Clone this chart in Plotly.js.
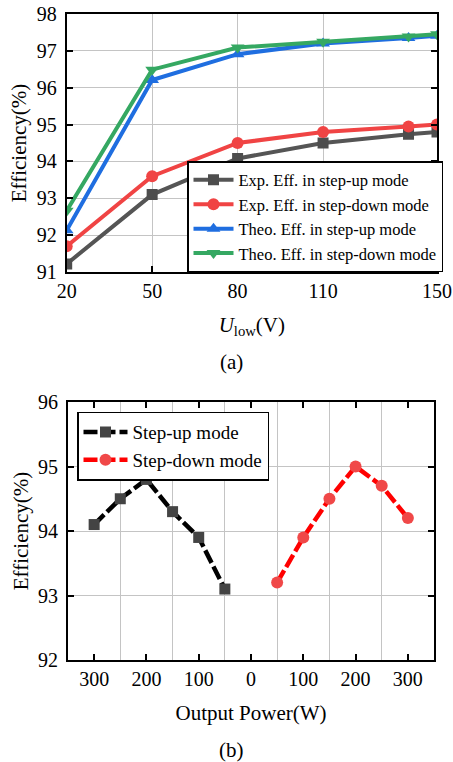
<!DOCTYPE html>
<html>
<head>
<meta charset="utf-8">
<script src="https://cdn.plot.ly/plotly-3.0.1.min.js"></script>
<style>html,body{margin:0;padding:0;background:#fff;}#chart{width:453px;height:762px;}</style>
</head>
<body>
<div id="chart"></div>
<script>
// ---- Data: chart (a) ----
const uLow = [20, 50, 80, 110, 140, 150];
const expStepUp = [91.22, 93.1, 94.08, 94.5, 94.74, 94.8];
const expStepDown = [91.7, 93.6, 94.5, 94.8, 94.95, 95.0];
const theoStepUp = [92.13, 96.21, 96.91, 97.2, 97.35, 97.41];
const theoStepDown = [92.66, 96.49, 97.09, 97.25, 97.39, 97.45];
const namesA = ["Exp. Eff. in step-up mode", "Exp. Eff. in step-down mode",
                "Theo. Eff. in step-up mode", "Theo. Eff. in step-down mode"];
const uLowTicks = [20, 50, 80, 110, 150];

// ---- Data: chart (b) ----
const powerUp = [300, 250, 200, 150, 100, 50];
const effUp = [94.1, 94.5, 94.8, 94.3, 93.9, 93.1];
const powerDown = [50, 100, 150, 200, 250, 300];
const effDown = [93.2, 93.9, 94.5, 95.0, 94.7, 94.2];
const namesB = ["Step-up mode", "Step-down mode"];
const powerTickVals = [-300, -200, -100, 0, 100, 200, 300];
const powerTickText = ["300", "200", "100", "0", "100", "200", "300"];
const powerGridVals = [-250, -150, -50, 50, 150, 250];

const FONT = "Liberation Serif, 'Times New Roman', serif";
const W = 453, H = 762;
const px = v => v / W;
const py = v => (H - v) / H;

const traces = [
  {x: uLow, y: expStepUp, name: namesA[0], mode: "lines+markers", xaxis: "x", yaxis: "y", legend: "legend",
   line: {color: "#555555", width: 4}, marker: {symbol: "square", size: 11, color: "#4d4d4d"}},
  {x: uLow, y: expStepDown, name: namesA[1], mode: "lines+markers", xaxis: "x", yaxis: "y", legend: "legend",
   line: {color: "#f04444", width: 4}, marker: {symbol: "circle", size: 12, color: "#f04444"}},
  {x: uLow, y: theoStepUp, name: namesA[2], mode: "lines+markers", xaxis: "x", yaxis: "y", legend: "legend",
   line: {color: "#1f6ee0", width: 4}, marker: {symbol: "triangle-up", size: 12, color: "#1f6ee0"}},
  {x: uLow, y: theoStepDown, name: namesA[3], mode: "lines+markers", xaxis: "x", yaxis: "y", legend: "legend",
   line: {color: "#35a862", width: 4}, marker: {symbol: "triangle-down", size: 12, color: "#35a862"}},
  {x: powerUp.map(p => -p), y: effUp, name: namesB[0], mode: "lines+markers", xaxis: "x2", yaxis: "y2", legend: "legend2",
   line: {color: "#000000", width: 4.5, dash: "14px,4px"}, marker: {symbol: "square", size: 11, color: "#444444"}},
  {x: powerDown, y: effDown, name: namesB[1], mode: "lines+markers", xaxis: "x2", yaxis: "y2", legend: "legend2",
   line: {color: "#ff0000", width: 4.5, dash: "14px,4px"}, marker: {symbol: "circle", size: 12, color: "#f04848"}}
];

const axisCommon = {
  showline: true, linecolor: "#000", linewidth: 2, zeroline: false,
  gridcolor: "#c4c4c4", gridwidth: 1,
  ticks: "inside", ticklen: 6, tickwidth: 2, tickcolor: "#000",
  tickfont: {family: FONT, size: 20, color: "#000"}
};

const layout = {
  width: W, height: H,
  margin: {l: 0, r: 0, t: 0, b: 0},
  paper_bgcolor: "#fff", plot_bgcolor: "#fff",
  font: {family: FONT, size: 20, color: "#000"},
  showlegend: true,
  xaxis: Object.assign({}, axisCommon, {
    domain: [px(66.7), px(437)], range: [20, 150], anchor: "y",
    tickmode: "array", tickvals: uLowTicks, showgrid: true, mirror: true,
    title: {text: "<i>U</i><sub>low</sub>(V)", font: {family: FONT, size: 21}, standoff: 16}
  }),
  yaxis: Object.assign({}, axisCommon, {
    domain: [py(272), py(14)], range: [91, 98], anchor: "x",
    dtick: 1, showgrid: true, mirror: "ticks", ticklabelstandoff: 4,
    title: {text: "Efficiency(%)", font: {family: FONT, size: 21}, standoff: 4}
  }),
  xaxis2: Object.assign({}, axisCommon, {
    domain: [px(68), px(434)], range: [-350, 350], anchor: "y2",
    tickmode: "array", tickvals: powerTickVals, ticktext: powerTickText,
    showgrid: false, mirror: "ticks",
    minor: {tickmode: "array", tickvals: powerGridVals, showgrid: true, gridcolor: "#c4c4c4", gridwidth: 1, ticks: ""},
    title: {text: "Output Power(W)", font: {family: FONT, size: 21}, standoff: 16}
  }),
  yaxis2: Object.assign({}, axisCommon, {
    domain: [py(660), py(402)], range: [92, 96], anchor: "x2",
    dtick: 1, showgrid: true, mirror: "ticks", ticklabelstandoff: 4,
    title: {text: "Efficiency(%)", font: {family: FONT, size: 21}, standoff: 4}
  }),
  legend: {
    x: px(187), xanchor: "left", y: py(272), yanchor: "bottom",
    bgcolor: "#fff", bordercolor: "#000", borderwidth: 1.5,
    font: {family: FONT, size: 16.5, color: "#000"}, itemwidth: 40, tracegroupgap: 0
  },
  legend2: {
    x: px(77), xanchor: "left", y: py(411.7), yanchor: "top",
    bgcolor: "#fff", bordercolor: "#000", borderwidth: 1.5,
    font: {family: FONT, size: 19, color: "#000"}, itemwidth: 44, tracegroupgap: 0
  },
  annotations: [
    {text: "(a)", xref: "paper", yref: "paper", x: px(231), y: py(362), xanchor: "center", yanchor: "middle",
     showarrow: false, font: {family: FONT, size: 21, color: "#000"}},
    {text: "(b)", xref: "paper", yref: "paper", x: px(231), y: py(750), xanchor: "center", yanchor: "middle",
     showarrow: false, font: {family: FONT, size: 21, color: "#000"}}
  ]
};

Plotly.newPlot("chart", traces, layout, {displayModeBar: false, staticPlot: true});
</script>
</body>
</html>
